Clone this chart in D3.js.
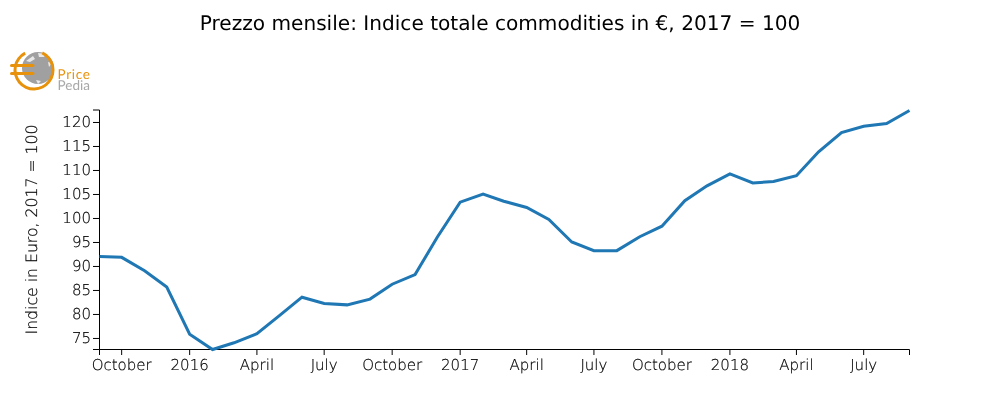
<!DOCTYPE html>
<html><head><meta charset="utf-8">
<script src="https://cdn.jsdelivr.net/npm/d3@7/dist/d3.min.js"></script>
<style>
html,body{margin:0;padding:0;background:#fff}
svg{display:block;will-change:opacity;opacity:.999}
text{font-family:"DejaVu Sans",sans-serif;fill:#111;text-rendering:geometricPrecision}
.axis text{font-size:15px;font-weight:200;fill:#000;stroke:#000;stroke-width:.2px}
.axis path,.axis line{stroke:#000;stroke-width:1;fill:none}
</style></head><body>
<svg id="c" width="1000" height="400"></svg>
<script>
const startMonth = "2015-09";
const values = [92.1,91.9,89.1,85.7,75.9,72.7,74.1,76.0,79.7,83.6,82.3,82.0,83.2,86.3,88.3,96.1,
103.4,105.1,103.6,102.3,99.8,95.1,93.3,93.3,96.2,98.4,103.7,106.8,109.3,107.4,107.7,108.9,113.9,117.9,119.2,119.8,122.5];
const tickMonths = ["2015-10","2016-01","2016-04","2016-07","2016-10","2017-01","2017-04","2017-07","2017-10","2018-01","2018-04","2018-07"];
const tickLabels = ["October","2016","April","July","October","2017","April","July","October","2018","April","July"];
const yTicks = [75,80,85,90,95,100,105,110,115,120];
const titleText = "Prezzo mensile: Indice totale commodities in €, 2017 = 100";
const yLabel = "Indice in Euro, 2017 = 100";

const parse = d3.utcParse("%Y-%m");
const dates = values.map((_,i)=>d3.utcMonth.offset(parse(startMonth),i));
const x = d3.scaleUtc().domain(d3.extent(dates)).range([99,909]);
const y = d3.scaleLinear().domain([72.7,122.6]).range([349,109.5]);
const svg = d3.select("#c");

svg.append("text").attr("x",500).attr("y",30).attr("text-anchor","middle")
  .style("font-size","20.13px").style("fill","#000").text(titleText);

svg.append("g").attr("class","axis").attr("transform","translate(0,349)")
  .call(d3.axisBottom(x).tickPadding(4).tickValues(tickMonths.map(parse)).tickFormat((d,i)=>tickLabels[i]));
svg.append("g").attr("class","axis").attr("transform","translate(99,0)")
  .call(d3.axisLeft(y).tickPadding(2).tickValues(yTicks));

svg.append("text").attr("transform","translate(37,229.5) rotate(-90)").attr("text-anchor","middle")
  .style("font-size","15.7px").style("font-weight","200").style("fill","#000").style("stroke","#000").style("stroke-width",".2px").text(yLabel);

svg.append("path").datum(values).attr("transform","translate(0.5,0.5)")
  .attr("fill","none").attr("stroke","#1f77b4").attr("stroke-width",3)
  .attr("d",d3.line().x((d,i)=>x(dates[i])).y(d=>y(d)));

// logo
const logo = svg.append("g");
logo.append("circle").attr("cx",38).attr("cy",68).attr("r",16).attr("fill","#a0a0a0");
logo.append("path").attr("d","M38 53 L46 54 L44 57 L39 57 Z M26 61 L33 56 L35 59 L30 62 Z M48 62 L52 63 L49 67 Z M36 80 L41 81 L38 84 Z").attr("fill","#e8e8e8");
logo.append("path").attr("d",d3.arc()({innerRadius:17.5,outerRadius:20.5,startAngle:0.45,endAngle:5.8}))
  .attr("transform","translate(34,70)").attr("fill","#e8920c");
logo.append("path").attr("d","M11.5 65.5H33M11.5 73.5H33").attr("stroke","#e8920c").attr("stroke-width",3).attr("stroke-linecap","round").attr("fill","none");
logo.append("text").attr("x",57.5).attr("y",78.5).style("font-family","Lato").style("letter-spacing","0.7px").style("font-size","13.5px").style("fill","#e8920c").text("Price");
logo.append("text").attr("x",57.5).attr("y",89.5).style("font-family","Lato").style("font-size","13.5px").style("fill","#a8a8a8").text("Pedia");
</script></body></html>
